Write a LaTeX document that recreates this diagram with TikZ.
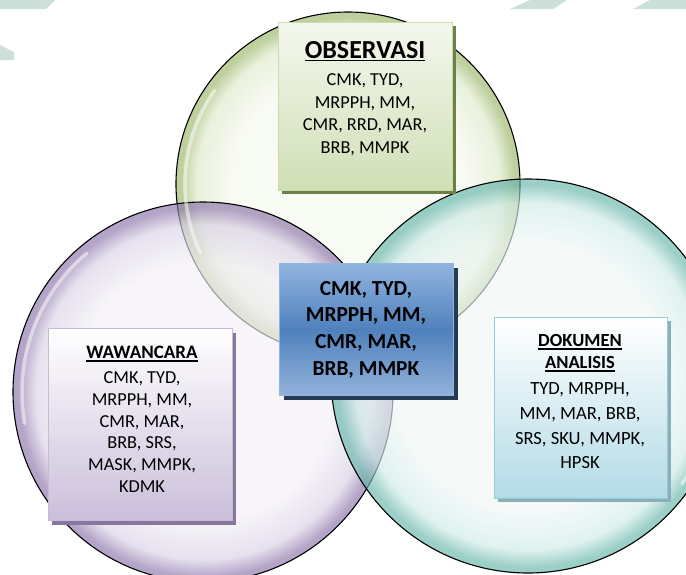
\documentclass[tikz,border=0pt]{standalone}
\usepackage{fontspec}
\setmainfont{Carlito}
\usetikzlibrary{shadows}

\definecolor{tanda}{HTML}{CCE0D9}
\definecolor{hijaumuda}{HTML}{F4F7EE}
\definecolor{hijautengah}{HTML}{DDE9C8}
\definecolor{hijautua}{HTML}{9AB769}
\definecolor{unguMuda}{HTML}{F2EFF6}
\definecolor{unguTengah}{HTML}{DAD1E6}
\definecolor{unguTua}{HTML}{8C74AA}
\definecolor{tosMuda}{HTML}{EFF7F6}
\definecolor{tosTengah}{HTML}{CFEBE6}
\definecolor{tosTua}{HTML}{66B5AB}
\definecolor{biruAtas}{HTML}{92B4DF}
\definecolor{biruTengah}{HTML}{4F81BD}
\definecolor{biruBawah}{HTML}{93B2DA}
\definecolor{dokBawah}{HTML}{B2DBE6}
\definecolor{dokTepi}{HTML}{93CDDD}

\pgfdeclareradialshading{bolahijau}{\pgfpoint{0bp}{0bp}}{color(0bp)=(hijaumuda); color(17bp)=(hijaumuda); color(22bp)=(hijautengah); color(24.3bp)=(hijautua); color(25bp)=(hijautua); color(50bp)=(hijautua)}
\pgfdeclareradialshading{bolaungu}{\pgfpoint{0bp}{0bp}}{color(0bp)=(unguMuda); color(17bp)=(unguMuda); color(22bp)=(unguTengah); color(24.3bp)=(unguTua); color(25bp)=(unguTua); color(50bp)=(unguTua)}
\pgfdeclareradialshading{bolatosca}{\pgfpoint{0bp}{0bp}}{color(0bp)=(tosMuda); color(17bp)=(tosMuda); color(22bp)=(tosTengah); color(24.3bp)=(tosTua); color(25bp)=(tosTua); color(50bp)=(tosTua)}

\newsavebox{\garisbox}
\newcommand{\garis}[1]{\sbox{\garisbox}{#1}\rlap{\rule[-3pt]{\wd\garisbox}{1.5pt}}\usebox{\garisbox}}

\begin{document}
\begin{tikzpicture}[x=1pt, y=-1pt,
	bola/.style={draw=black, line width=1.1pt, fill opacity=0.65},
	kilap/.style={white, line width=3.5pt, opacity=0.5, line cap=round},
	kotak/.style={rectangle, anchor=north west, inner sep=0pt, line width=1pt},
	isi/.style={anchor=north, align=center, inner sep=0pt, font=\fontsize{18.3}{22.7}\selectfont},
	judul/.style={anchor=north, align=center, inner sep=0pt, font=\bfseries\fontsize{19}{21.7}\selectfont}]
	\useasboundingbox (0,0) rectangle (686,574);
	% tanda air di atas
	\fill[tanda] (0,0) -- (55,0) -- (46,9) -- (0,9) -- cycle;
	\fill[tanda] (0,45) -- (14,52) -- (14,60) -- (0,60) -- cycle;
	\fill[tanda] (530,0) -- (567,0) -- (553,9) -- (510,9) -- cycle;
	\fill[tanda] (650,0) -- (686,0) -- (686,9) -- (633,9) -- cycle;
	% tiga lingkaran
	\shade[bola, shading=bolahijau] (348,184) circle[radius=172pt];
	\shade[bola, shading=bolaungu] (203,392) circle[radius=190pt];
	\shade[bola, shading=bolatosca] (528,376) circle[radius=197pt];
	\draw[kilap] ([shift={(145:163pt)}]348,184) arc[start angle=145, end angle=205, radius=163pt];
	\draw[kilap] ([shift={(130:181pt)}]203,392) arc[start angle=130, end angle=190, radius=181pt];
	\draw[kilap] ([shift={(-35:188pt)}]528,376) arc[start angle=-35, end angle=20, radius=188pt];
	% kotak observasi
	\node[kotak, minimum width=174pt, minimum height=168pt, draw=hijautengah!70!hijautua, top color=hijaumuda, bottom color=hijautengah!80!hijautua,
		drop shadow={shadow xshift=3pt, shadow yshift=-3pt, opacity=1, fill=hijautua!70!black}] (obs) at (278,22) {};
	\node[judul, font=\bfseries\fontsize{26}{28}\selectfont] (obsjudul) at (365,41) {\garis{OBSERVASI}};
	\node[isi] (obsisi) at (365,73.3) {CMK, TYD,\\ MRPPH, MM,\\ CMR, RRD, MAR,\\ BRB, MMPK};
	% kotak wawancara
	\node[kotak, minimum width=184pt, minimum height=192pt, draw=unguTengah!75!unguTua, top color=white, bottom color=unguTengah!80!unguTua,
		drop shadow={shadow xshift=3pt, shadow yshift=-4pt, opacity=1, fill=unguTua!70!gray}] (waw) at (48,328) {};
	\node[judul] (wawjudul) at (142,346) {\garis{WAWANCARA}};
	\node[isi, font=\fontsize{18.3}{21.7}\selectfont] (wawisi) at (142,371.7) {CMK, TYD,\\ MRPPH, MM,\\ CMR, MAR,\\ BRB, SRS,\\ MASK, MMPK,\\ KDMK};
	% kotak dokumen
	\node[kotak, minimum width=173pt, minimum height=181pt, draw=dokTepi, top color=white, bottom color=dokBawah,
		drop shadow={shadow xshift=3pt, shadow yshift=-3pt, opacity=1, fill=dokTepi!60!gray}] (dok) at (494,317) {};
	\node[judul, font=\bfseries\fontsize{18.5}{21.7}\selectfont] (dokjudul) at (580,334.5) {\garis{DOKUMEN}\\ \garis{ANALISIS}};
	\node[isi, font=\fontsize{18.6}{24.7}\selectfont] (dokisi) at (580,382.7) {TYD, MRPPH,\\ MM, MAR, BRB,\\ SRS, SKU, MMPK,\\ HPSK};
	% kotak tengah
	\node[kotak, minimum width=174pt, minimum height=132pt, draw=biruAtas, top color=biruAtas, bottom color=biruBawah, middle color=biruTengah,
		drop shadow={shadow xshift=4pt, shadow yshift=-4pt, opacity=1, fill=biruTengah!45!black}] (inti) at (279,263) {};
	\node[isi, font=\bfseries\fontsize{21.4}{26.7}\selectfont] (intiisi) at (366,281) {CMK, TYD,\\ MRPPH, MM,\\ CMR, MAR,\\ BRB, MMPK};
\end{tikzpicture}
\end{document}
